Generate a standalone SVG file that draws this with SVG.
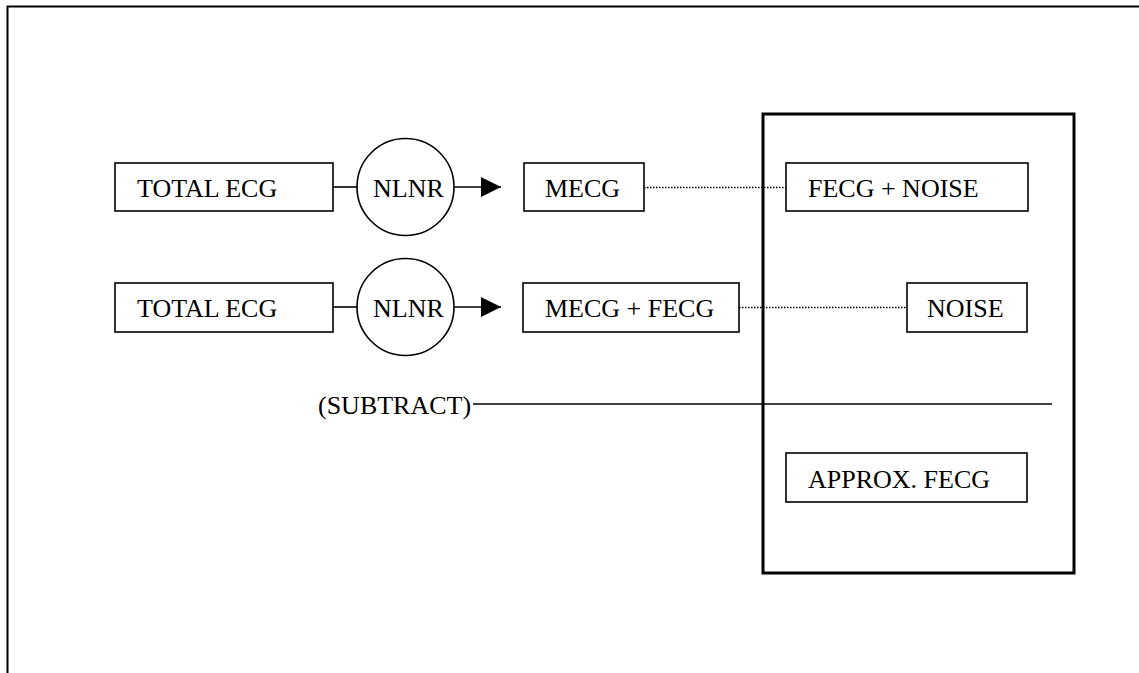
<svg xmlns="http://www.w3.org/2000/svg" width="1139" height="673" viewBox="0 0 1139 673">
<style>
.box{fill:#fff;stroke:#000;stroke-width:1.6}
.circ{fill:#fff;stroke:#000;stroke-width:1.6}
.big{fill:none;stroke:#000;stroke-width:3}
.t{font-family:"Liberation Serif","Times New Roman",serif;font-size:26px;fill:#000}
.ln{stroke:#000;stroke-width:1.6;fill:none}
.dot{stroke:#000;stroke-width:1.5;stroke-dasharray:1.5 1.5;fill:none}
</style>
<defs>
<marker id="ah" viewBox="0 0 20 20" refX="20" refY="10" markerWidth="20" markerHeight="20" markerUnits="userSpaceOnUse" orient="auto">
<path d="M0,0 L20,10 L0,20 Z" fill="#000"/>
</marker>
</defs>
<g id="frame">
<path d="M7.5,673 L7.5,6.5 L1139,6.5" fill="none" stroke="#000" stroke-width="2"/>
</g>
<g id="result-panel">
<rect class="big" x="763" y="114" width="311" height="459"/>
</g>
<g id="connectors">
<line class="ln" x1="333" y1="187" x2="357" y2="187"/>
<line class="ln" x1="454" y1="187" x2="501" y2="187" marker-end="url(#ah)"/>
<line class="ln" x1="333" y1="307" x2="357" y2="307"/>
<line class="ln" x1="454" y1="307" x2="501" y2="307" marker-end="url(#ah)"/>
<line class="dot" x1="644" y1="187.5" x2="786" y2="187.5"/>
<line class="dot" x1="739" y1="307.5" x2="907" y2="307.5"/>
<line class="ln" x1="473" y1="404" x2="1052" y2="404"/>
</g>
<g id="total-ecg-1"><rect class="box" x="115" y="163" width="218" height="48"/><text class="t" x="137" y="197">TOTAL ECG</text></g>
<g id="nlnr-1"><circle class="circ" cx="405.5" cy="187" r="48.5"/><text class="t" x="373" y="197">NLNR</text></g>
<g id="mecg"><rect class="box" x="524" y="163" width="120" height="48"/><text class="t" x="545" y="197">MECG</text></g>
<g id="fecg-noise"><rect class="box" x="786" y="163" width="242" height="48"/><text class="t" x="808" y="197">FECG + NOISE</text></g>
<g id="total-ecg-2"><rect class="box" x="115" y="283" width="218" height="49"/><text class="t" x="137" y="317">TOTAL ECG</text></g>
<g id="nlnr-2"><circle class="circ" cx="405.5" cy="307" r="48.5"/><text class="t" x="373" y="317">NLNR</text></g>
<g id="mecg-fecg"><rect class="box" x="523" y="283" width="216" height="49"/><text class="t" x="545" y="317">MECG + FECG</text></g>
<g id="noise"><rect class="box" x="907" y="283" width="120" height="49"/><text class="t" x="927" y="317">NOISE</text></g>
<g id="subtract"><text class="t" x="318" y="414">(SUBTRACT)</text></g>
<g id="approx-fecg"><rect class="box" x="786" y="453" width="241" height="49"/><text class="t" x="808" y="488">APPROX. FECG</text></g>
</svg>
